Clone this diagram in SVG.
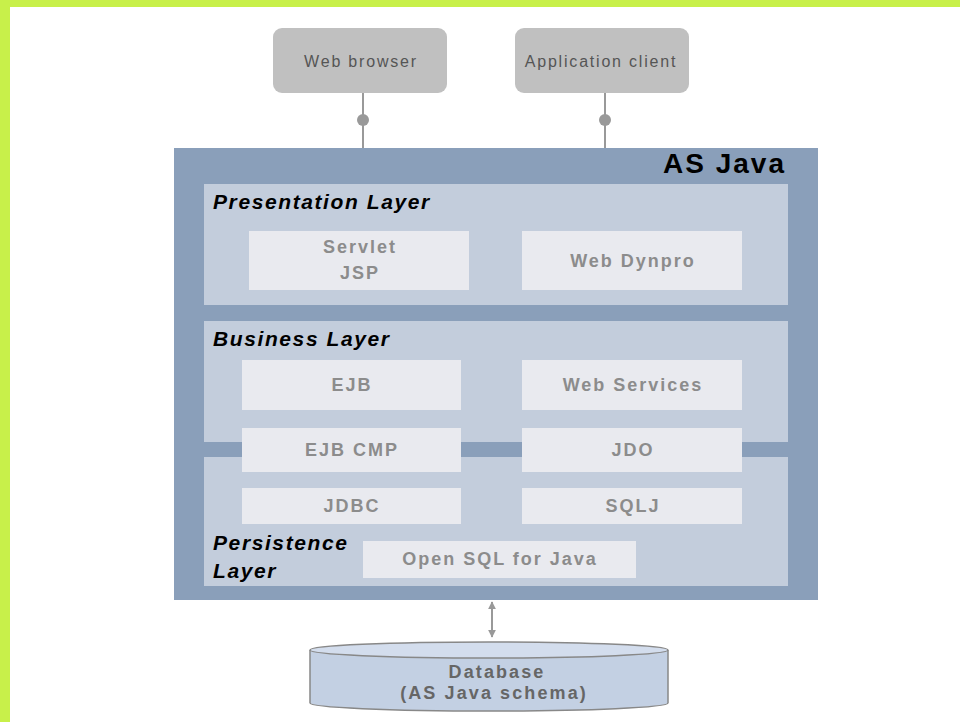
<svg xmlns="http://www.w3.org/2000/svg" width="960" height="722" viewBox="0 0 960 722">
<defs>
<style>
.client{fill:#c0c0c0;}
.clabel{font-family:"Liberation Sans",Arial,sans-serif;font-size:16px;letter-spacing:1.8px;fill:#555;text-anchor:middle;}
.outer{fill:#8a9fba;}
.panel{fill:#c3cddc;}
.box{fill:#e9eaef;}
.blabel{font-family:"Liberation Sans",Arial,sans-serif;font-size:18px;letter-spacing:2px;font-weight:bold;fill:#8c8c8c;text-anchor:middle;}
.ltitle{font-family:"Liberation Sans",Arial,sans-serif;font-size:21px;letter-spacing:1.6px;font-weight:bold;font-style:italic;fill:#000;}
.dblabel{font-family:"Liberation Sans",Arial,sans-serif;font-size:18px;letter-spacing:2.1px;font-weight:bold;fill:#666;text-anchor:middle;}
.conn{stroke:#999;stroke-width:2;fill:none;}
.dot{fill:#999;}
</style>
<marker id="ah" viewBox="0 0 10 10" refX="9" refY="5" markerWidth="4" markerHeight="4" orient="auto-start-reverse">
<path d="M0,0 L10,5 L0,10 z" fill="#999"/>
</marker>
</defs>
<rect x="0" y="0" width="960" height="722" fill="#fff"/>
<rect x="0" y="0" width="960" height="7" fill="#c8f04a"/>
<rect x="0" y="0" width="10" height="722" fill="#c8f04a"/>

<g id="web-browser">
<rect class="client" x="273" y="28" width="174" height="65" rx="9"/>
<text class="clabel" x="361" y="67">Web browser</text>
</g>
<g id="application-client">
<rect class="client" x="515" y="28" width="174" height="65" rx="9"/>
<text class="clabel" x="601" y="67">Application client</text>
</g>

<g id="as-java">
<rect class="outer" x="174" y="148" width="644" height="452"/>
<text x="786" y="173" text-anchor="end" font-family="'Liberation Sans',Arial,sans-serif" font-size="28" letter-spacing="2" font-weight="bold" fill="#000">AS Java</text>
</g>

<g id="presentation-layer">
<rect class="panel" x="204" y="184" width="584" height="121"/>
<text class="ltitle" x="213" y="209">Presentation Layer</text>
</g>
<g id="business-layer">
<rect class="panel" x="204" y="321" width="584" height="121"/>
<text class="ltitle" x="213" y="346">Business Layer</text>
</g>
<g id="persistence-layer">
<rect class="panel" x="204" y="457" width="584" height="129"/>
<text class="ltitle" x="213" y="550">Persistence</text>
<text class="ltitle" x="213" y="578">Layer</text>
</g>

<g id="servlet-jsp">
<rect class="box" x="249" y="231" width="220" height="59"/>
<text class="blabel" x="360" y="253">Servlet</text>
<text class="blabel" x="360" y="279">JSP</text>
</g>
<g id="web-dynpro">
<rect class="box" x="522" y="231" width="220" height="59"/>
<text class="blabel" x="633" y="267">Web Dynpro</text>
</g>
<g id="ejb">
<rect class="box" x="242" y="360" width="219" height="50"/>
<text class="blabel" x="352" y="391">EJB</text>
</g>
<g id="web-services">
<rect class="box" x="522" y="360" width="220" height="50"/>
<text class="blabel" x="633" y="391">Web Services</text>
</g>
<g id="ejb-cmp">
<rect class="box" x="242" y="428" width="219" height="44"/>
<text class="blabel" x="352" y="456">EJB CMP</text>
</g>
<g id="jdo">
<rect class="box" x="522" y="428" width="220" height="44"/>
<text class="blabel" x="633" y="456">JDO</text>
</g>
<g id="jdbc">
<rect class="box" x="242" y="488" width="219" height="36"/>
<text class="blabel" x="352" y="512">JDBC</text>
</g>
<g id="sqlj">
<rect class="box" x="522" y="488" width="220" height="36"/>
<text class="blabel" x="633" y="512">SQLJ</text>
</g>
<g id="open-sql">
<rect class="box" x="363" y="541" width="273" height="37"/>
<text class="blabel" x="500" y="565">Open SQL for Java</text>
</g>

<g id="database">
<path d="M310,650 L310,703 A179,8 0 0 0 668,703 L668,650" fill="#c3d0e3" stroke="#888" stroke-width="1.5"/>
<ellipse cx="489" cy="650" rx="179" ry="8" fill="#d3dded" stroke="#888" stroke-width="1.5"/>
<text class="dblabel" x="497" y="678">Database</text>
<text class="dblabel" x="494" y="699">(AS Java schema)</text>
</g>

<g id="connectors">
<line class="conn" x1="363" y1="93" x2="363" y2="148"/>
<circle class="dot" cx="363" cy="120" r="6"/>
<line class="conn" x1="605" y1="93" x2="605" y2="148"/>
<circle class="dot" cx="605" cy="120" r="6"/>
<line class="conn" x1="492" y1="602" x2="492" y2="637" marker-start="url(#ah)" marker-end="url(#ah)"/>
</g>
</svg>
